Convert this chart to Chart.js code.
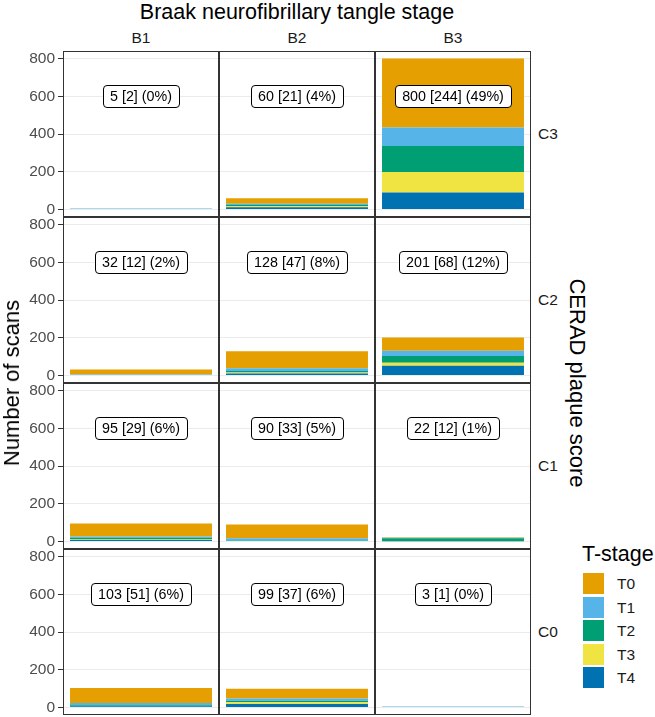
<!DOCTYPE html>
<html>
<head>
<meta charset="utf-8">
<script src="https://cdn.jsdelivr.net/npm/chart.js@4.4.1/dist/chart.umd.min.js"></script>
<style>
  body { margin: 0; background: #fff; font-family: "Liberation Sans", Arial, sans-serif; }
  #fig { position: relative; width: 655px; height: 717px; overflow: hidden; }
  .panel { position: absolute; }
  .txt { position: absolute; white-space: nowrap; color: #1a1a1a; transform: translate(-50%, -50%); line-height: 1; }
  .key { position: absolute; width: 21px; height: 21px; }
</style>
</head>
<body>
<div id="fig"></div>
<script>
const braak = ["B1", "B2", "B3"]
const cerad = ["C3", "C2", "C1", "C0"]
const stages = ["T0", "T1", "T2", "T3", "T4"]
const stageColors = ["#E69F00", "#56B4E9", "#009E73", "#F0E442", "#0072B2"]

// scans per panel, row by row: C3 (B1, B2, B3), C2 ..., C1 ..., C0 ...
const t0 = [0, 30, 366, 27, 90, 70, 69, 73, 3, 80, 51, 0]
const t1 = [5, 7, 98, 5, 14, 28, 7, 12, 2, 11, 12, 3]
const t2 = [0, 5, 138, 0, 8, 36, 9, 2, 15, 5, 9, 0]
const t3 = [0, 6, 108, 0, 5, 16, 2, 1, 1, 0, 9, 0]
const t4 = [0, 12, 90, 0, 11, 51, 8, 2, 1, 7, 18, 0]
const panelLabels = [
  "5 [2] (0%)", "60 [21] (4%)", "800 [244] (49%)",
  "32 [12] (2%)", "128 [47] (8%)", "201 [68] (12%)",
  "95 [29] (6%)", "90 [33] (5%)", "22 [12] (1%)",
  "103 [51] (6%)", "99 [37] (6%)", "3 [1] (0%)"
]
const yTicks = [0, 200, 400, 600, 800]
const labelY = 600

const stageValues = [t0, t1, t2, t3, t4]
const fig = document.getElementById("fig")

// panel grid geometry
const gridLeft = 63, gridTop = 51, pw = 156, ph = 166
const font = '"Liberation Sans", Arial, sans-serif'

function addText(text, x, y, size, extra) {
  const d = document.createElement("div")
  d.className = "txt"
  d.textContent = text
  d.style.left = x + "px"
  d.style.top = y + "px"
  d.style.fontSize = size + "px"
  if (extra) Object.assign(d.style, extra)
  fig.appendChild(d)
  return d
}

const framePlugin = {
  id: "frame",
  afterDraw(chart) {
    const { ctx, chartArea: a } = chart
    ctx.save()
    ctx.strokeStyle = "#333333"
    ctx.lineWidth = 1
    ctx.strokeRect(a.left + 0.5, a.top + 0.5, a.width - 1, a.height - 1)
    ctx.restore()
  }
}

const labelPlugin = {
  id: "countLabel",
  afterDatasetsDraw(chart, args, opts) {
    const { ctx, chartArea: a } = chart
    const x = (a.left + a.right) / 2
    const y = chart.scales.y.getPixelForValue(labelY)
    ctx.save()
    ctx.font = "14.3px " + font
    const w = ctx.measureText(opts.text).width + 14
    const h = 22
    ctx.beginPath()
    ctx.roundRect(Math.round(x - w / 2) + 0.5, Math.round(y - h / 2) + 0.5, Math.round(w), h, 3.5)
    ctx.fillStyle = "#fff"
    ctx.fill()
    ctx.strokeStyle = "#000"
    ctx.lineWidth = 1
    ctx.stroke()
    ctx.fillStyle = "#000"
    ctx.textAlign = "center"
    ctx.textBaseline = "middle"
    ctx.fillText(opts.text, x, y + 1)
    ctx.restore()
  }
}

panelLabels.forEach((text, i) => {
  const r = Math.floor(i / 3), c = i % 3
  const first = c === 0
  const x = first ? 0 : gridLeft + c * pw
  const w = first ? gridLeft + pw : pw
  const total = stageValues.reduce((s, arr) => s + arr[i], 0)

  const box = document.createElement("div")
  box.className = "panel"
  box.style.left = x + "px"
  box.style.top = (gridTop + r * ph) + "px"
  const canvas = document.createElement("canvas")
  canvas.width = w
  canvas.height = ph
  box.appendChild(canvas)
  fig.appendChild(box)

  // T4 at the bottom of the stack, T0 on top
  const datasets = stages.map((s, k) => ({
    label: s,
    data: [stageValues[k][i]],
    backgroundColor: stageColors[k],
    borderWidth: 0,
    // keep very small panels visible as a hairline
    minBarLength: stageValues[k][i] > 0 && total < 10 ? 1 : 0,
    barPercentage: 1,
    categoryPercentage: 0.91
  })).reverse()

  new Chart(canvas, {
    type: "bar",
    data: { labels: [braak[c]], datasets },
    plugins: [labelPlugin, framePlugin],
    options: {
      responsive: false,
      animation: false,
      devicePixelRatio: 1,
      layout: { padding: 0 },
      plugins: {
        legend: { display: false },
        tooltip: { enabled: false },
        countLabel: { text }
      },
      scales: {
        x: { stacked: true, display: false },
        y: {
          stacked: true,
          min: -40,
          max: 840,
          border: { display: false },
          grid: {
            color: "#ebebeb",
            lineWidth: 1,
            drawTicks: first,
            tickLength: 5,
            tickColor: "#333333"
          },
          ticks: {
            display: first,
            padding: 3,
            color: "#4d4d4d",
            font: { family: font, size: 15.5 }
          },
          afterBuildTicks(scale) {
            scale.ticks = yTicks.map(v => ({ value: v }))
          },
          afterFit(scale) {
            scale.width = first ? gridLeft : 0
            scale.paddingTop = 0
            scale.paddingBottom = 0
          }
        }
      }
    }
  })
})

// facet strips and titles
addText("Braak neurofibrillary tangle stage", gridLeft + 1.5 * pw, 13, 21.5, { color: "#000" })
braak.forEach((b, c) => addText(b, gridLeft + c * pw + pw / 2, 38, 15.5))
cerad.forEach((cv, r) => addText(cv, 548, gridTop + r * ph + ph / 2, 15.5))
addText("CERAD plaque score", 577, gridTop + 2 * ph, 22, { color: "#000", transform: "translate(-50%, -50%) rotate(90deg)" })
addText("Number of scans", 12, gridTop + 2 * ph, 22, { color: "#000", transform: "translate(-50%, -50%) rotate(-90deg)" })

// legend
addText("T-stage", 582, 555, 21.5, { color: "#000", transform: "translate(0, -50%)" })
stages.forEach((s, k) => {
  const y = 573 + k * 23.5
  const key = document.createElement("div")
  key.className = "key"
  key.style.left = "583px"
  key.style.top = y + "px"
  key.style.background = stageColors[k]
  fig.appendChild(key)
  addText(s, 617, y + 11, 15.5, { transform: "translate(0, -50%)" })
})
</script>
</body>
</html>
